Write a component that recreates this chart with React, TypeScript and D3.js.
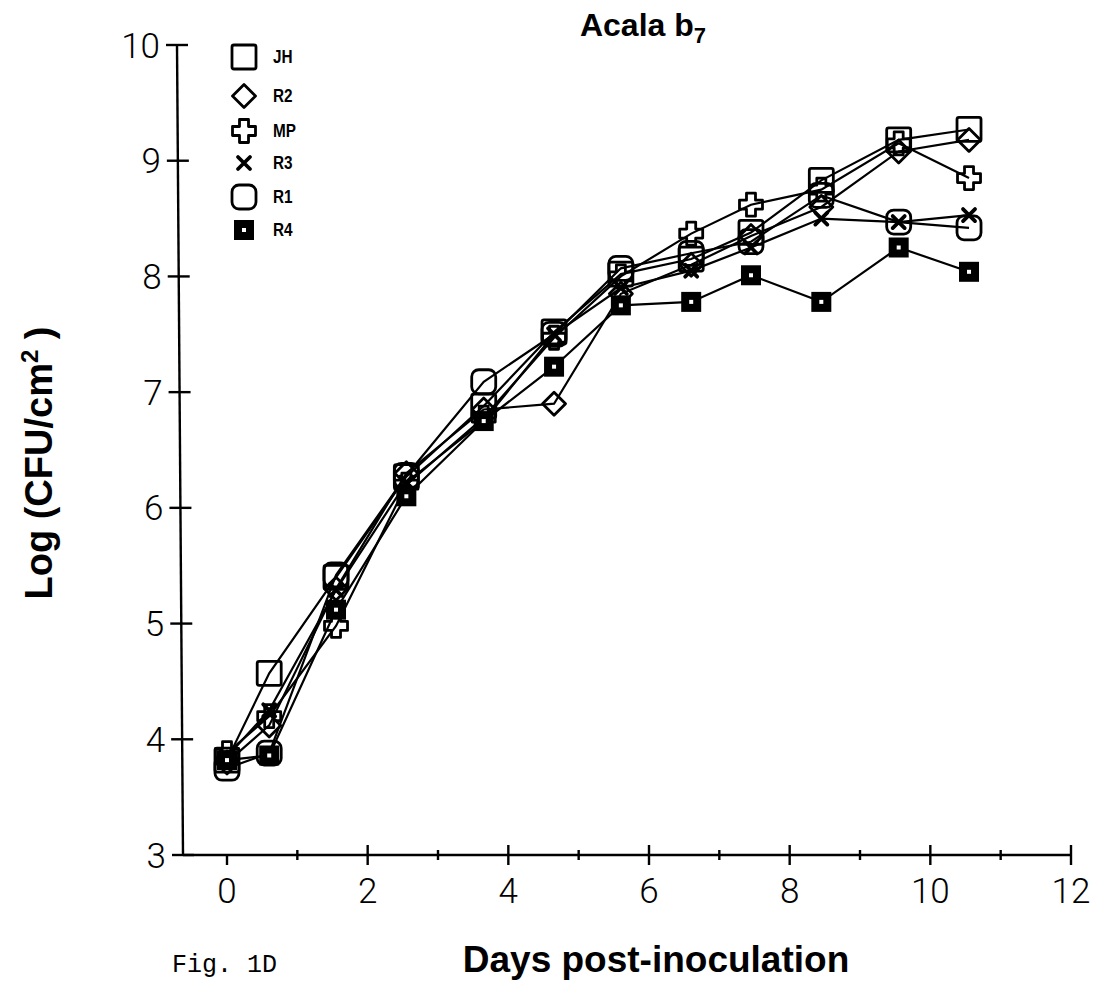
import React from "react";
import * as d3 from "d3";

const days = [0, 0.6, 1.55, 2.55, 3.65, 4.65, 5.6, 6.6, 7.45, 8.45, 9.55, 10.55];
const seriesNames = ["JH", "R2", "MP", "R3", "R1", "R4"];
const JH = [3.82, 4.57, 5.4, 6.27, 6.88, 7.52, 8.02, 8.15, 8.38, 8.83, 9.18, 9.27];
const R2 = [3.8, 4.12, 5.3, 6.3, 6.85, 6.9, 7.85, 8.1, 8.35, 8.6, 9.08, 9.18];
const MP = [3.88, 4.2, 4.98, 6.2, 6.78, 7.47, 8.0, 8.37, 8.62, 8.75, 9.15, 8.85];
const R3 = [3.85, 4.25, 5.29, 6.22, 6.75, 7.5, 7.9, 8.05, 8.25, 8.5, 8.47, 8.53];
const R1 = [3.75, 3.88, 5.42, 6.28, 7.09, 7.5, 8.07, 8.2, 8.3, 8.7, 8.47, 8.42];
const R4 = [3.82, 3.86, 5.12, 6.1, 6.75, 7.22, 7.75, 7.78, 8.01, 7.78, 8.25, 8.04];
const seriesValues = [JH, R2, MP, R3, R1, R4];
const xTicks = [0, 2, 4, 6, 8, 10, 12];
const xMinor = [1, 3, 5, 7, 9, 11];
const yTicks = [3, 4, 5, 6, 7, 8, 9, 10];

const W = 1107;
const H = 984;
const axisXBottom = 183;
const axisXTop = 177;
const x = d3.scaleLinear().domain([0, 12]).range([227, 1071]);
const y = d3.scaleLinear().domain([3, 10]).range([855, 45]);
const axisXAt = d3.scaleLinear().domain([3, 10]).range([axisXBottom, axisXTop]);

function Marker({ kind, cx, cy }: { kind: string; cx: number; cy: number }) {
  const t = `translate(${cx},${cy})`;
  const sw = 2.8;
  if (kind === "JH") {
    return <rect transform={t} x={-12} y={-12} width={24} height={24} rx={2} fill="none" stroke="#000" strokeWidth={sw} />;
  }
  if (kind === "R2") {
    return <path transform={t} d="M0,-11.5L11.5,0L0,11.5L-11.5,0Z" fill="none" stroke="#000" strokeWidth={sw} strokeLinejoin="round" />;
  }
  if (kind === "MP") {
    const a = 4.5, b = 11.5;
    const d = `M${-a},${-b}H${a}V${-a}H${b}V${a}H${a}V${b}H${-a}V${a}H${-b}V${-a}H${-a}Z`;
    return <path transform={t} d={d} fill="none" stroke="#000" strokeWidth={sw} strokeLinejoin="round" />;
  }
  if (kind === "R3") {
    return <path transform={t} d="M-6,-6L6,6M6,-6L-6,6" stroke="#000" strokeWidth={3.8} strokeLinecap="round" />;
  }
  if (kind === "R1") {
    return <rect transform={t} x={-12} y={-12} width={24} height={24} rx={7} fill="none" stroke="#000" strokeWidth={sw} />;
  }
  return (
    <g transform={t}>
      <rect x={-10} y={-10} width={20} height={20} fill="#000" />
      <rect x={-2} y={-2} width={4} height={4} fill="#fff" />
    </g>
  );
}

export default function App() {
  const line = d3
    .line<number>()
    .x((_, i) => x(days[i]))
    .y((v) => y(v));
  const tickFont = "Roboto, 'DejaVu Sans', sans-serif";
  const boldFont = "'Liberation Sans', Arial, sans-serif";
  return (
    <svg width={W} height={H} style={{ position: "absolute", left: 0, top: 0, background: "#fff" }}>
      <rect width={W} height={H} fill="#fff" />
      {/* axes */}
      <line x1={axisXAt(10)} x2={axisXAt(3)} y1={y(10)} y2={y(3)} stroke="#000" strokeWidth={2.4} />
      <line x1={axisXBottom} x2={x(12)} y1={y(3)} y2={y(3)} stroke="#000" strokeWidth={2.4} />
      {yTicks.map((t) => (
        <g key={"y" + t}>
          <line x1={axisXAt(t) - 11} x2={axisXAt(t) + 11} y1={y(t)} y2={y(t)} stroke="#000" strokeWidth={2.4} />
          <text x={axisXAt(t) - 17} y={y(t)} dy="0.36em" textAnchor="end" fontFamily={tickFont} fontWeight={300} fontSize={35}>
            {t}
          </text>
        </g>
      ))}
      {xTicks.map((t) => (
        <g key={"x" + t}>
          <line x1={x(t)} x2={x(t)} y1={t === 0 ? y(3) : y(3) - 10} y2={y(3) + 10} stroke="#000" strokeWidth={2.4} />
          <text x={x(t)} y={y(3) + 35} dy="0.36em" textAnchor="middle" fontFamily={tickFont} fontWeight={300} fontSize={35}>
            {t}
          </text>
        </g>
      ))}
      {xMinor.map((t) => (
        <line key={"m" + t} x1={x(t)} x2={x(t)} y1={y(3) - 5} y2={y(3) + 5} stroke="#000" strokeWidth={2.4} />
      ))}
      {/* series */}
      {seriesValues.map((vals, si) => (
        <path key={"l" + si} d={line(vals) || ""} fill="none" stroke="#000" strokeWidth={2.2} />
      ))}
      {seriesValues.map((vals, si) =>
        vals.map((v, i) => <Marker key={si + "-" + i} kind={seriesNames[si]} cx={x(days[i])} cy={y(v)} />)
      )}
      {/* legend */}
      {seriesNames.map((n, i) => {
        const ly = [57, 96, 131, 163, 197, 230][i];
        return (
          <g key={"lg" + n}>
            <Marker kind={n} cx={244} cy={ly} />
            <text x={273} y={ly} dy="0.36em" fontFamily={boldFont} fontWeight={700} fontSize={18} transform={`translate(${273 * 0.15},0) scale(0.85,1)`}>
              {n}
            </text>
          </g>
        );
      })}
      {/* titles */}
      <text x={643} y={36} textAnchor="middle" fontFamily={boldFont} fontWeight={700} fontSize={32}>
        Acala b<tspan fontSize={22} dy={7}>7</tspan>
      </text>
      <text x={656} y={972} textAnchor="middle" fontFamily={boldFont} fontWeight={700} fontSize={37}>
        Days post-inoculation
      </text>
      <text x={172} y={972} fontFamily="'Liberation Mono', 'Courier New', monospace" fontSize={25}>
        Fig. 1D
      </text>
      <text transform={`translate(52,463) rotate(-90)`} textAnchor="middle" fontFamily={boldFont} fontWeight={700} fontSize={38}>
        Log (CFU/cm<tspan fontSize={24} dy={-14}>2</tspan>
        <tspan dy={14}> )</tspan>
      </text>
    </svg>
  );
}
